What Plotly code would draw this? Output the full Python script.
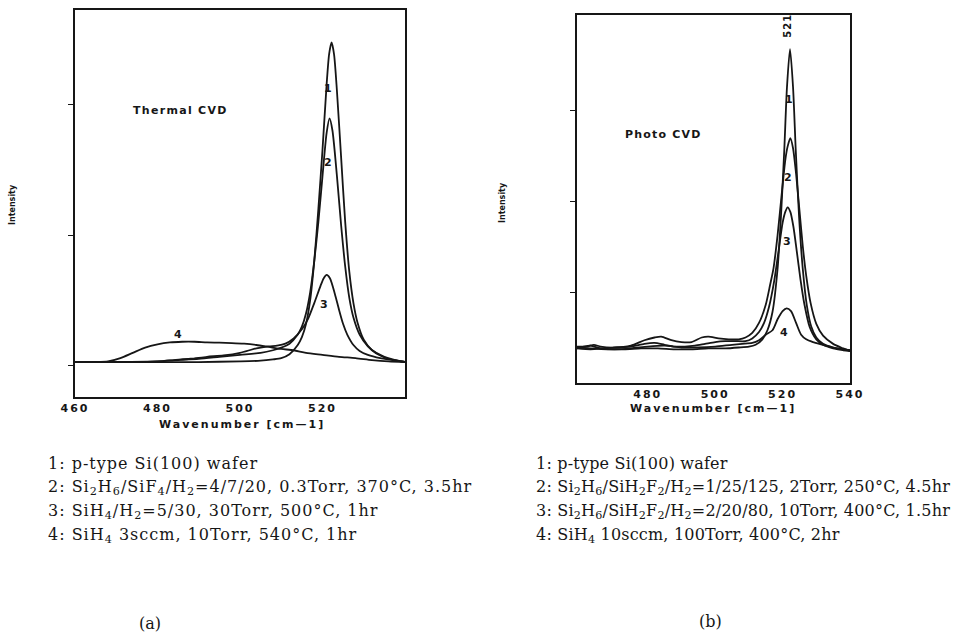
import plotly.graph_objects as go

# ---------------- Panel (a): Thermal CVD ----------------
a1_x = [460, 480, 490, 500, 505, 508, 510, 512, 514, 515, 516, 517, 518, 519, 520, 521, 521.6, 522.2,
        522.8, 523.5, 524.5, 525.5, 526.5, 527.5, 528.5, 530, 532, 534, 536, 538, 540]
a1_y = [0.03, 0.03, 0.03, 0.035, 0.04, 0.05, 0.06, 0.09, 0.16, 0.22, 0.32, 0.50, 0.80, 1.20, 1.65, 2.15, 2.38, 2.47,
        2.38, 2.10, 1.60, 1.10, 0.72, 0.48, 0.33, 0.20, 0.12, 0.08, 0.055, 0.04, 0.03]

a2_x = [460, 475, 480, 485, 490, 495, 500, 505, 508, 510, 512, 514, 515, 516, 517, 518, 519, 520, 521, 521.7,
        522.4, 523.5, 524.5, 525.5, 526.5, 527.5, 529, 531, 533, 535, 537, 540]
a2_y = [0.03, 0.03, 0.035, 0.045, 0.055, 0.07, 0.085, 0.10, 0.12, 0.14, 0.17, 0.24, 0.30, 0.40, 0.56, 0.80, 1.10, 1.45, 1.78, 1.89,
        1.80, 1.45, 1.08, 0.76, 0.52, 0.37, 0.24, 0.15, 0.10, 0.07, 0.05, 0.03]

a3_x = [460, 480, 484, 488, 492, 496, 500, 504, 507, 509, 511, 513, 515, 516.5, 518, 519.5, 520.3, 521,
        521.8, 523, 524, 525, 526, 527.5, 529, 531, 534, 537, 540]
a3_y = [0.03, 0.035, 0.045, 0.055, 0.07, 0.08, 0.10, 0.135, 0.15, 0.155, 0.17, 0.21, 0.28, 0.36, 0.48, 0.61, 0.67, 0.695,
        0.67, 0.55, 0.43, 0.32, 0.24, 0.16, 0.115, 0.085, 0.06, 0.045, 0.03]

a4_x = [460, 465, 468, 471, 474, 477, 480, 483, 486, 489, 492, 495, 498, 501, 504, 507, 510, 513, 516,
        520, 524, 528, 532, 536, 540]
a4_y = [0.03, 0.03, 0.035, 0.06, 0.10, 0.14, 0.165, 0.18, 0.185, 0.185, 0.18, 0.178, 0.175, 0.17, 0.16, 0.145, 0.13, 0.12, 0.10,
        0.085, 0.07, 0.06, 0.045, 0.035, 0.03]

# ---------------- Panel (b): Photo CVD ----------------
b1_x = [459, 463, 468, 473, 478, 483, 488, 493, 498, 503, 507, 510, 512, 514, 515.5, 517, 518.5, 519.5, 520.5, 521.3, 522.2,
        523.1, 523.9, 524.9, 526, 527.2, 528.5, 530, 532, 535, 538, 540]
b1_y = [0.39, 0.38, 0.37, 0.37, 0.38, 0.38, 0.37, 0.37, 0.38, 0.38, 0.39, 0.40, 0.42, 0.48, 0.58, 0.78, 1.25, 1.82, 2.56, 3.25, 3.67,
        3.25, 2.56, 1.82, 1.25, 0.85, 0.62, 0.50, 0.43, 0.39, 0.37, 0.36]

b2_x = [459, 462, 464, 466, 470, 475, 479, 482, 484, 487, 490, 493, 496, 498, 501, 504, 507, 509, 511, 513, 515, 516.3,
        517.3, 518.5, 519.8, 520.8, 521.5, 522.3, 523.1, 524, 525, 526, 527, 528.3, 530, 532, 535, 538, 540]
b2_y = [0.40, 0.40, 0.42, 0.40, 0.39, 0.41, 0.47, 0.50, 0.51, 0.47, 0.45, 0.45, 0.50, 0.51, 0.49, 0.48, 0.48, 0.50, 0.55, 0.66, 0.86, 1.08,
        1.26, 1.62, 2.10, 2.45, 2.60, 2.69, 2.58, 2.30, 1.90, 1.50, 1.18, 0.88, 0.65, 0.52, 0.43, 0.38, 0.35]

b3_x = [459, 463, 467, 471, 475, 479, 482, 485, 488, 491, 494, 497, 500, 503, 506, 509, 511, 513, 514.5, 516, 517.5, 518.8,
        520, 520.8, 521.5, 522.3, 523.2, 524.2, 525.3, 526.5, 528, 530, 532, 535, 538, 540]
b3_y = [0.38, 0.37, 0.38, 0.39, 0.40, 0.43, 0.44, 0.42, 0.40, 0.40, 0.41, 0.43, 0.45, 0.46, 0.46, 0.46, 0.49, 0.56, 0.66, 0.84, 1.12, 1.45,
        1.76, 1.88, 1.93, 1.88, 1.72, 1.45, 1.14, 0.86, 0.62, 0.48, 0.42, 0.38, 0.36, 0.35]

b4_x = [459, 461, 463, 466, 470, 475, 480, 485, 490, 495, 500, 505, 508, 511, 513, 515, 517, 518.5, 520, 521.2,
        522.5, 524, 525.5, 527, 529, 532, 535, 538, 540]
b4_y = [0.38, 0.40, 0.41, 0.38, 0.37, 0.38, 0.40, 0.41, 0.39, 0.39, 0.40, 0.42, 0.43, 0.44, 0.47, 0.53, 0.58, 0.70, 0.79, 0.82,
        0.79, 0.66, 0.53, 0.48, 0.45, 0.42, 0.39, 0.37, 0.36]

# tick labels
a_ticks = [460, 480, 500, 520]
b_ticks = [480, 500, 520, 540]

# curve labels
a_lab_text = ["1", "2", "3", "4"]
a_lab_x = [521.3, 521.3, 520.4, 485.0]
a_lab_y = [2.12, 1.55, 0.47, 0.24]
b_lab_text = ["1", "2", "3", "4"]
b_lab_x = [521.9, 521.6, 521.3, 520.4]
b_lab_y = [3.12, 2.26, 1.56, 0.56]

# sample descriptions
a_legend = ["1: p-type Si(100) wafer",
            "2: Si<sub>2</sub>H<sub>6</sub>/SiF<sub>4</sub>/H<sub>2</sub>=4/7/20, 0.3Torr, 370°C, 3.5hr",
            "3: SiH<sub>4</sub>/H<sub>2</sub>=5/30, 30Torr, 500°C, 1hr",
            "4: SiH<sub>4</sub> 3sccm, 10Torr, 540°C, 1hr"]
b_legend = ["1: p-type Si(100) wafer",
            "2: Si<sub>2</sub>H<sub>6</sub>/SiH<sub>2</sub>F<sub>2</sub>/H<sub>2</sub>=1/25/125, 2Torr, 250°C, 4.5hr",
            "3: Si<sub>2</sub>H<sub>6</sub>/SiH<sub>2</sub>F<sub>2</sub>/H<sub>2</sub>=2/20/80, 10Torr, 400°C, 1.5hr",
            "4: SiH<sub>4</sub> 10sccm, 100Torr, 400°C, 2hr"]

W, H = 956, 636
INK = "#161616"
PLOT_FONT = "DejaVu Sans"
SERIF = "DejaVu Serif"


def px(xp):
    return xp / W


def py(yp):
    return 1 - yp / H


def spaced(t, ls):
    return '<span style="letter-spacing:%.1fpx">%s</span>' % (ls, t)


fig = go.Figure()
line_style = dict(color=INK, width=1.8, shape="spline", smoothing=0.7)
for xs, ys in [(a1_x, a1_y), (a2_x, a2_y), (a3_x, a3_y), (a4_x, a4_y)]:
    fig.add_trace(go.Scatter(x=xs, y=ys, mode="lines", line=line_style, xaxis="x", yaxis="y",
                             showlegend=False, hoverinfo="skip"))
for xs, ys in [(b1_x, b1_y), (b2_x, b2_y), (b3_x, b3_y), (b4_x, b4_y)]:
    fig.add_trace(go.Scatter(x=xs, y=ys, mode="lines", line=line_style, xaxis="x2", yaxis="y2",
                             showlegend=False, hoverinfo="skip"))

axis_common = dict(showline=True, mirror=True, linecolor=INK, linewidth=1.6, showgrid=False,
                   zeroline=False, fixedrange=True, automargin=False)
tick_font = dict(family=PLOT_FONT, size=11, color=INK, weight="bold")

fig.update_layout(
    width=W, height=H, margin=dict(l=0, r=0, t=0, b=0, autoexpand=False),
    paper_bgcolor="white", plot_bgcolor="white", showlegend=False,
    xaxis=dict(domain=[px(75), px(405)], range=[460, 540], anchor="y", ticks="",
               tickvals=a_ticks, ticktext=[spaced(str(t), 2) for t in a_ticks],
               tickfont=tick_font, **axis_common),
    yaxis=dict(domain=[py(397), py(10)], range=[-0.237, 2.718], anchor="x", ticks="outside",
               ticklen=5, tickwidth=1.3, tickcolor=INK, tickvals=[0, 1, 2], showticklabels=False,
               **axis_common),
    xaxis2=dict(domain=[px(577), px(850)], range=[459, 540], anchor="y2", ticks="",
                tickvals=b_ticks, ticktext=[spaced(str(t), 2) for t in b_ticks],
                tickfont=tick_font, **axis_common),
    yaxis2=dict(domain=[py(383), py(15)], range=[0, 4.044], anchor="x2", ticks="outside",
                ticklen=5, tickwidth=1.3, tickcolor=INK, tickvals=[1, 2, 3], showticklabels=False,
                **axis_common),
)

bold_font = dict(family=PLOT_FONT, size=11, color=INK, weight="bold")
ann = []
for t, x, y in zip(a_lab_text, a_lab_x, a_lab_y):
    ann.append(dict(text=t, x=x, y=y, xref="x", yref="y", showarrow=False, xanchor="center",
                    yanchor="middle", font=bold_font))
for t, x, y in zip(b_lab_text, b_lab_x, b_lab_y):
    ann.append(dict(text=t, x=x, y=y, xref="x2", yref="y2", showarrow=False, xanchor="center",
                    yanchor="middle", font=bold_font))
ann.append(dict(text=spaced("521", 1), x=521.4, y=3.93, xref="x2", yref="y2", showarrow=False,
                textangle=-90, xanchor="center", yanchor="middle",
                font=dict(family=PLOT_FONT, size=10, color=INK, weight="bold")))
ann.append(dict(text=spaced("Thermal CVD", 1.3), x=485.5, y=1.95, xref="x", yref="y", showarrow=False,
                xanchor="center", yanchor="middle", font=bold_font))
ann.append(dict(text=spaced("Photo CVD", 1.2), x=484.6, y=2.73, xref="x2", yref="y2", showarrow=False,
                xanchor="center", yanchor="middle", font=bold_font))
# axis titles
for xc, yc in [(242, 424), (713, 408)]:
    ann.append(dict(text=spaced("Wavenumber [cm—1]", 2), x=px(xc), y=py(yc), xref="paper", yref="paper",
                    showarrow=False, xanchor="center", yanchor="middle", font=bold_font))
for xc, yc in [(12, 205), (502, 202)]:
    ann.append(dict(text="Intensity", x=px(xc), y=py(yc), xref="paper", yref="paper", textangle=-90,
                    showarrow=False, xanchor="center", yanchor="middle",
                    font=dict(family=PLOT_FONT, size=8, color=INK, weight="bold")))
# sample descriptions
for i, t in enumerate(a_legend):
    ann.append(dict(text=spaced(t, 1.0), x=px(46), y=py(463 + 24 * i), xref="paper", yref="paper",
                    xanchor="left", yanchor="middle", showarrow=False,
                    font=dict(family=SERIF, size=16, color=INK)))
for i, t in enumerate(b_legend):
    ann.append(dict(text=spaced(t, 0.2), x=px(534), y=py(463 + 24 * i), xref="paper", yref="paper",
                    xanchor="left", yanchor="middle", showarrow=False,
                    font=dict(family=SERIF, size=16, color=INK)))
ann.append(dict(text="(a)", x=px(150), y=py(623), xref="paper", yref="paper", showarrow=False,
                xanchor="center", yanchor="middle", font=dict(family=SERIF, size=16, color=INK)))
ann.append(dict(text="(b)", x=px(710), y=py(621), xref="paper", yref="paper", showarrow=False,
                xanchor="center", yanchor="middle", font=dict(family=SERIF, size=16, color=INK)))
fig.update_layout(annotations=ann)

fig.write_html("out.html", config={"displayModeBar": False},
               post_script="document.body.style.margin='0px';document.body.style.overflow='hidden';")
